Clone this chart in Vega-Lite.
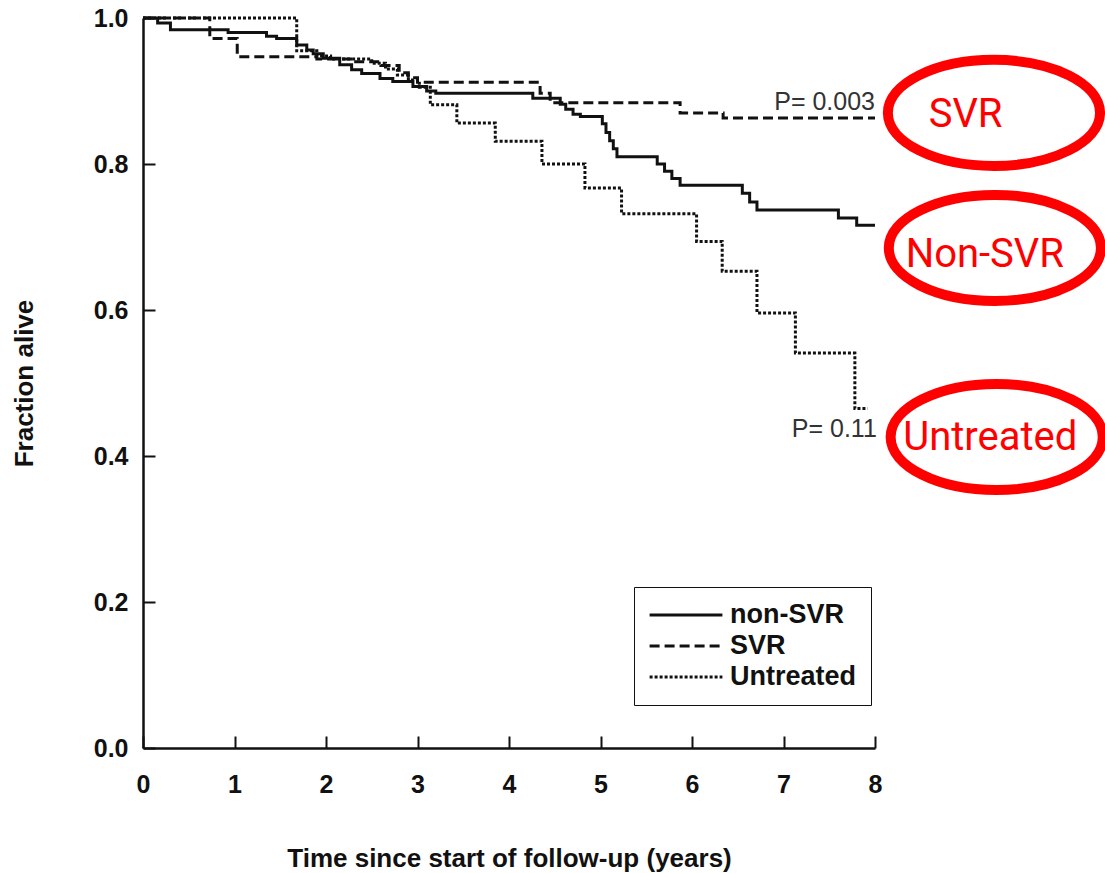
{
  "$schema": "https://vega.github.io/schema/vega-lite/v6.json",
  "width": 732,
  "height": 730,
  "autosize": {"type": "none"},
  "padding": {"left": 143, "top": 18, "right": 230, "bottom": 125},
  "background": "white",
  "config": {
    "view": {"stroke": null},
    "axis": {
      "grid": false,
      "domainColor": "#111",
      "domainWidth": 2.5,
      "tickColor": "#111",
      "tickWidth": 2,
      "tickSize": -12,
      "labelFont": "Liberation Sans",
      "labelFontWeight": "bold",
      "labelFontSize": 25,
      "labelColor": "#111",
      "labelFlush": false,
      "titleFont": "Liberation Sans",
      "titleFontWeight": "bold",
      "titleFontSize": 26,
      "titleColor": "#111"
    }
  },
  "datasets": {
    "curves": [
      {"group": "non-SVR", "t": 0, "s": 1.0},
      {"group": "non-SVR", "t": 0.16, "s": 0.993},
      {"group": "non-SVR", "t": 0.3, "s": 0.984},
      {"group": "non-SVR", "t": 0.93, "s": 0.98},
      {"group": "non-SVR", "t": 1.35, "s": 0.975},
      {"group": "non-SVR", "t": 1.46, "s": 0.972},
      {"group": "non-SVR", "t": 1.68, "s": 0.963},
      {"group": "non-SVR", "t": 1.79, "s": 0.956},
      {"group": "non-SVR", "t": 1.86, "s": 0.951},
      {"group": "non-SVR", "t": 1.97, "s": 0.945},
      {"group": "non-SVR", "t": 2.15, "s": 0.936},
      {"group": "non-SVR", "t": 2.28, "s": 0.929},
      {"group": "non-SVR", "t": 2.39, "s": 0.924},
      {"group": "non-SVR", "t": 2.59, "s": 0.917},
      {"group": "non-SVR", "t": 2.73, "s": 0.913},
      {"group": "non-SVR", "t": 2.95, "s": 0.906},
      {"group": "non-SVR", "t": 3.1, "s": 0.9},
      {"group": "non-SVR", "t": 3.2, "s": 0.897},
      {"group": "non-SVR", "t": 4.26, "s": 0.89},
      {"group": "non-SVR", "t": 4.56, "s": 0.882},
      {"group": "non-SVR", "t": 4.62, "s": 0.875},
      {"group": "non-SVR", "t": 4.7, "s": 0.868},
      {"group": "non-SVR", "t": 4.78, "s": 0.865},
      {"group": "non-SVR", "t": 5.02, "s": 0.855},
      {"group": "non-SVR", "t": 5.06, "s": 0.843},
      {"group": "non-SVR", "t": 5.1, "s": 0.832},
      {"group": "non-SVR", "t": 5.14, "s": 0.821},
      {"group": "non-SVR", "t": 5.18, "s": 0.81},
      {"group": "non-SVR", "t": 5.62, "s": 0.8},
      {"group": "non-SVR", "t": 5.7, "s": 0.79},
      {"group": "non-SVR", "t": 5.78, "s": 0.78},
      {"group": "non-SVR", "t": 5.87, "s": 0.771},
      {"group": "non-SVR", "t": 6.55, "s": 0.76},
      {"group": "non-SVR", "t": 6.63, "s": 0.748},
      {"group": "non-SVR", "t": 6.71, "s": 0.737},
      {"group": "non-SVR", "t": 7.6, "s": 0.726},
      {"group": "non-SVR", "t": 7.8, "s": 0.716},
      {"group": "non-SVR", "t": 8.0, "s": 0.716},
      {"group": "SVR", "t": 0, "s": 1.0},
      {"group": "SVR", "t": 0.73, "s": 0.972},
      {"group": "SVR", "t": 1.03, "s": 0.947},
      {"group": "SVR", "t": 1.9, "s": 0.944},
      {"group": "SVR", "t": 2.3, "s": 0.94},
      {"group": "SVR", "t": 2.6, "s": 0.935},
      {"group": "SVR", "t": 2.8, "s": 0.925},
      {"group": "SVR", "t": 2.9, "s": 0.918},
      {"group": "SVR", "t": 3.0, "s": 0.912},
      {"group": "SVR", "t": 4.34, "s": 0.897},
      {"group": "SVR", "t": 4.45, "s": 0.884},
      {"group": "SVR", "t": 5.87, "s": 0.87},
      {"group": "SVR", "t": 6.34, "s": 0.863},
      {"group": "SVR", "t": 8.0, "s": 0.863},
      {"group": "Untreated", "t": 0, "s": 1.0},
      {"group": "Untreated", "t": 1.68, "s": 0.955},
      {"group": "Untreated", "t": 1.9, "s": 0.948},
      {"group": "Untreated", "t": 2.05, "s": 0.944},
      {"group": "Untreated", "t": 2.5, "s": 0.938},
      {"group": "Untreated", "t": 2.65, "s": 0.93},
      {"group": "Untreated", "t": 2.78, "s": 0.922},
      {"group": "Untreated", "t": 2.9, "s": 0.915},
      {"group": "Untreated", "t": 3.02, "s": 0.905},
      {"group": "Untreated", "t": 3.14, "s": 0.881},
      {"group": "Untreated", "t": 3.43, "s": 0.856},
      {"group": "Untreated", "t": 3.85, "s": 0.831},
      {"group": "Untreated", "t": 4.36, "s": 0.8},
      {"group": "Untreated", "t": 4.83, "s": 0.767},
      {"group": "Untreated", "t": 5.23, "s": 0.732},
      {"group": "Untreated", "t": 6.05, "s": 0.694},
      {"group": "Untreated", "t": 6.33, "s": 0.653},
      {"group": "Untreated", "t": 6.71, "s": 0.596},
      {"group": "Untreated", "t": 7.13, "s": 0.541},
      {"group": "Untreated", "t": 7.78, "s": 0.465},
      {"group": "Untreated", "t": 7.92, "s": 0.465}
    ],
    "pvalues": [
      {"label": "P= 0.003", "t": 8.0, "s": 0.874},
      {"label": "P= 0.11", "t": 8.02, "s": 0.426}
    ],
    "ovals": [
      {"label": "SVR", "t": 9.3, "s": 0.87, "tt": 8.99, "ts": 0.851},
      {"label": "Non-SVR", "t": 9.31, "s": 0.685, "tt": 9.2, "ts": 0.659},
      {"label": "Untreated", "t": 9.33, "s": 0.426, "tt": 9.26, "ts": 0.408}
    ]
  },
  "layer": [
    {
      "data": {"name": "curves"},
      "mark": {"type": "line", "interpolate": "step-after", "strokeWidth": 3, "color": "#111"},
      "encoding": {
        "x": {
          "field": "t", "type": "quantitative",
          "scale": {"domain": [0, 8], "nice": false, "zero": false},
          "axis": {
            "values": [0, 1, 2, 3, 4, 5, 6, 7, 8],
            "format": "d",
            "labelPadding": 36,
            "title": "Time since start of follow-up (years)",
            "titlePadding": 48
          }
        },
        "y": {
          "field": "s", "type": "quantitative",
          "scale": {"domain": [0, 1], "nice": false},
          "axis": {
            "values": [0, 0.2, 0.4, 0.6, 0.8, 1.0],
            "format": ".1f",
            "labelPadding": 27,
            "title": "Fraction alive",
            "titlePadding": 56
          }
        },
        "strokeDash": {
          "field": "group", "type": "nominal",
          "scale": {"domain": ["non-SVR", "SVR", "Untreated"], "range": [[1, 0], [10, 5], [3, 2]]},
          "legend": {
            "title": null,
            "orient": "none",
            "legendX": 491,
            "legendY": 569,
            "strokeColor": "#111",
            "padding": 14,
            "symbolType": "stroke",
            "symbolSize": 5300,
            "symbolStrokeWidth": 3,
            "symbolStrokeColor": "#111",
            "labelFont": "Liberation Sans",
            "labelFontWeight": "bold",
            "labelFontSize": 27,
            "labelColor": "#111",
            "labelOffset": 6,
            "clipHeight": 28,
            "rowPadding": 3
          }
        }
      }
    },
    {
      "data": {"name": "pvalues"},
      "mark": {"type": "text", "align": "right", "baseline": "alphabetic", "font": "Liberation Sans", "fontSize": 25, "color": "#333"},
      "encoding": {
        "x": {"field": "t", "type": "quantitative"},
        "y": {"field": "s", "type": "quantitative"},
        "text": {"field": "label"}
      }
    },
    {
      "data": {"name": "ovals"},
      "mark": {
        "type": "point",
        "shape": "M-1,0A1,0.5,0,1,1,1,0A1,0.5,0,1,1,-1,0Z",
        "filled": false,
        "stroke": "#ff0000",
        "strokeWidth": 10,
        "size": 45000,
        "opacity": 1
      },
      "encoding": {
        "x": {"field": "t", "type": "quantitative"},
        "y": {"field": "s", "type": "quantitative"}
      }
    },
    {
      "data": {"name": "ovals"},
      "mark": {"type": "text", "align": "center", "baseline": "alphabetic", "font": "Roboto", "fontSize": 40, "color": "#ff0000"},
      "encoding": {
        "x": {"field": "tt", "type": "quantitative"},
        "y": {"field": "ts", "type": "quantitative"},
        "text": {"field": "label"}
      }
    }
  ]
}
